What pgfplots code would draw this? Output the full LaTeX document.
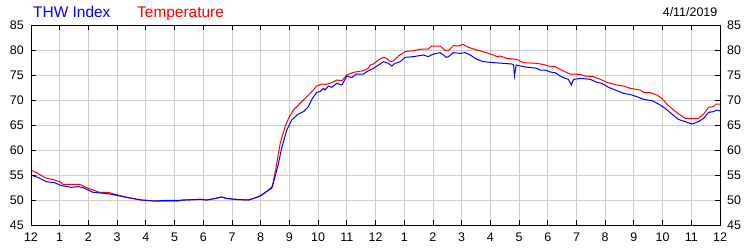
\documentclass[border=0pt]{standalone}
\usepackage{fontspec}
\setmainfont{Liberation Sans}
\usepackage{pgfplots}
\pgfplotsset{compat=1.18}
\definecolor{thwblue}{RGB}{0,0,255}
\definecolor{tempred}{RGB}{255,0,0}
\definecolor{gridgray}{RGB}{204,204,204}
\begin{document}
\begin{tikzpicture}[x=1bp,y=1bp]
\useasboundingbox (0,0) rectangle (750,250);
\pgfplotsset{
  common/.style={
    at={(31bp,25bp)}, anchor=south west,
    scale only axis, width=689bp, height=200bp,
    xmin=0, xmax=24, ymin=45, ymax=85,
    xtick={0,1,...,24},
    ytick={45,50,...,85},
    tick align=inside,
    major tick length=5bp,
    tick style={black, line width=0.8bp},
    axis line style={black, line width=1bp},
    /pgf/number format/assume math mode=true,
    ticklabel style={font=\fontsize{12.5}{14}\selectfont, inner sep=0pt},
  }
}
\begin{axis}[common,
    grid=major,
    grid style={gridgray, line width=0.8bp},
    xticklabels={12,1,2,3,4,5,6,7,8,9,10,11,12,1,2,3,4,5,6,7,8,9,10,11,12},
    xticklabel style={yshift=-8bp},
    yticklabel style={xshift=-7bp},
]
\addplot[tempred, line width=1bp, mark=none] coordinates {
(0,56.0) (0.24,55.33) (0.48,54.47) (0.82,54.0) (1.0,53.67) (1.11,53.13) (1.40,53.13) (1.64,53.13) (1.75,53.0)
(1.99,52.33) (2.16,52.0) (2.39,51.53) (2.68,51.53) (3.03,51.0) (3.38,50.47) (3.84,50.0) (4.31,49.8) (4.77,49.8)
(5.12,49.8) (5.30,50.0) (5.64,50.07) (5.89,50.13) (6.12,50.0) (6.41,50.3) (6.64,50.6) (6.82,50.3) (7.17,50.1)
(7.57,50.0) (7.75,50.3) (7.98,50.8) (8.21,51.7) (8.39,52.6) (8.44,53.67) (8.56,57.33) (8.68,61.33) (8.85,64.67)
(8.97,66.33) (9.14,68.0) (9.37,69.33) (9.61,70.67) (9.78,71.67) (9.95,72.8) (10.13,73.2) (10.30,73.13)
(10.48,73.47) (10.65,74.0) (10.83,73.87) (11.0,75.0) (11.23,75.53) (11.58,75.87) (11.75,76.33) (11.81,77.0)
(11.93,77.2) (12.10,78.0) (12.28,78.53) (12.39,78.33) (12.51,77.67) (12.62,77.8) (12.80,78.8) (13.03,79.67)
(13.32,79.87) (13.61,80.2) (13.84,80.2) (13.96,80.8) (14.25,80.8) (14.43,79.87) (14.54,79.87) (14.71,80.87)
(14.89,80.8) (15.04,81.13) (15.24,80.53) (15.53,80.0) (15.82,79.53) (16.11,79.0) (16.23,78.67) (16.34,78.8)
(16.57,78.33) (16.92,78.13) (17.15,77.47) (17.62,77.33) (17.85,77.1) (18.02,76.8) (18.26,76.67) (18.43,76.13)
(18.67,75.47) (18.78,75.2) (19.13,75.13) (19.30,74.8) (19.59,74.67) (19.83,74.13) (20.06,73.53) (20.41,73.0)
(20.64,72.8) (20.87,72.33) (21.22,72.0) (21.34,71.53) (21.57,71.47) (21.80,71.0) (21.97,70.33) (22.15,69.2)
(22.38,68.0) (22.61,67.0) (22.79,66.33) (23.25,66.33) (23.43,67.2) (23.60,68.53) (23.77,68.67) (23.86,69.2)
(24.0,69.2)
};
\addplot[thwblue, line width=1bp, mark=none] coordinates {
(0,55.0) (0.24,54.53) (0.53,53.67) (0.82,53.47) (1.06,52.87) (1.40,52.53) (1.64,52.67) (1.81,52.47) (1.99,52.0)
(2.16,51.53) (2.68,51.27) (3.03,50.87) (3.38,50.47) (3.84,50.0) (4.31,49.8) (4.77,49.93) (5.12,49.93) (5.64,50.07)
(5.89,50.13) (6.12,50.0) (6.41,50.3) (6.64,50.6) (6.82,50.3) (7.17,50.1) (7.57,50.0) (7.75,50.3) (7.98,50.8)
(8.21,51.7) (8.39,52.4) (8.44,53.33) (8.62,57.33) (8.73,60.33) (8.91,64.0) (9.08,66.0) (9.31,67.2) (9.49,67.67)
(9.66,68.67) (9.78,70.13) (9.95,71.53) (10.07,71.67) (10.19,72.33) (10.24,72.0) (10.36,72.8) (10.48,72.53)
(10.65,73.33) (10.83,73.0) (11.0,74.8) (11.17,74.47) (11.34,75.2) (11.58,75.2) (11.70,75.67) (11.81,76.0)
(11.93,76.33) (12.16,77.2) (12.28,77.67) (12.45,77.33) (12.57,76.8) (12.68,77.33) (12.86,77.67) (13.03,78.53)
(13.32,78.67) (13.67,79.0) (13.84,78.67) (14.02,79.2) (14.25,79.47) (14.37,79.0) (14.46,78.53) (14.54,78.67)
(14.71,79.47) (14.95,79.33) (15.12,79.47) (15.30,79.0) (15.53,78.13) (15.76,77.67) (16.11,77.47) (16.46,77.33)
(16.75,77.2) (16.81,77.0) (16.84,74.8) (16.90,77.0) (17.15,76.67) (17.62,76.33) (17.74,76.0) (17.91,76.0)
(18.08,75.6) (18.26,75.47) (18.43,74.8) (18.61,74.33) (18.72,74.13) (18.82,73.0) (18.90,74.13) (19.13,74.33)
(19.48,74.13) (19.65,73.67) (19.88,73.33) (20.12,72.53) (20.41,71.87) (20.64,71.33) (20.93,71.0) (21.10,70.67)
(21.34,70.13) (21.63,69.87) (21.86,69.2) (22.09,68.33) (22.32,67.2) (22.55,66.13) (22.79,65.67) (23.02,65.2)
(23.25,65.67) (23.43,66.33) (23.60,67.53) (23.77,67.67) (23.89,68.0) (24.0,67.8)
};
\end{axis}
\begin{axis}[common,
    xticklabels={},
    yticklabel pos=right,
    yticklabel style={xshift=7bp},
]
\end{axis}
\node[anchor=base west, inner sep=0pt, text=thwblue, font=\fontsize{15.5}{18}\selectfont] at (33,233) {THW Index};
\node[anchor=base west, inner sep=0pt, text=tempred, font=\fontsize{15.5}{18}\selectfont] at (137,233) {Temperature};
\node[anchor=base east, inner sep=0pt, font=\fontsize{12.5}{14}\selectfont] at (717.5,233.3) {4/11/2019};
\end{tikzpicture}
\end{document}
